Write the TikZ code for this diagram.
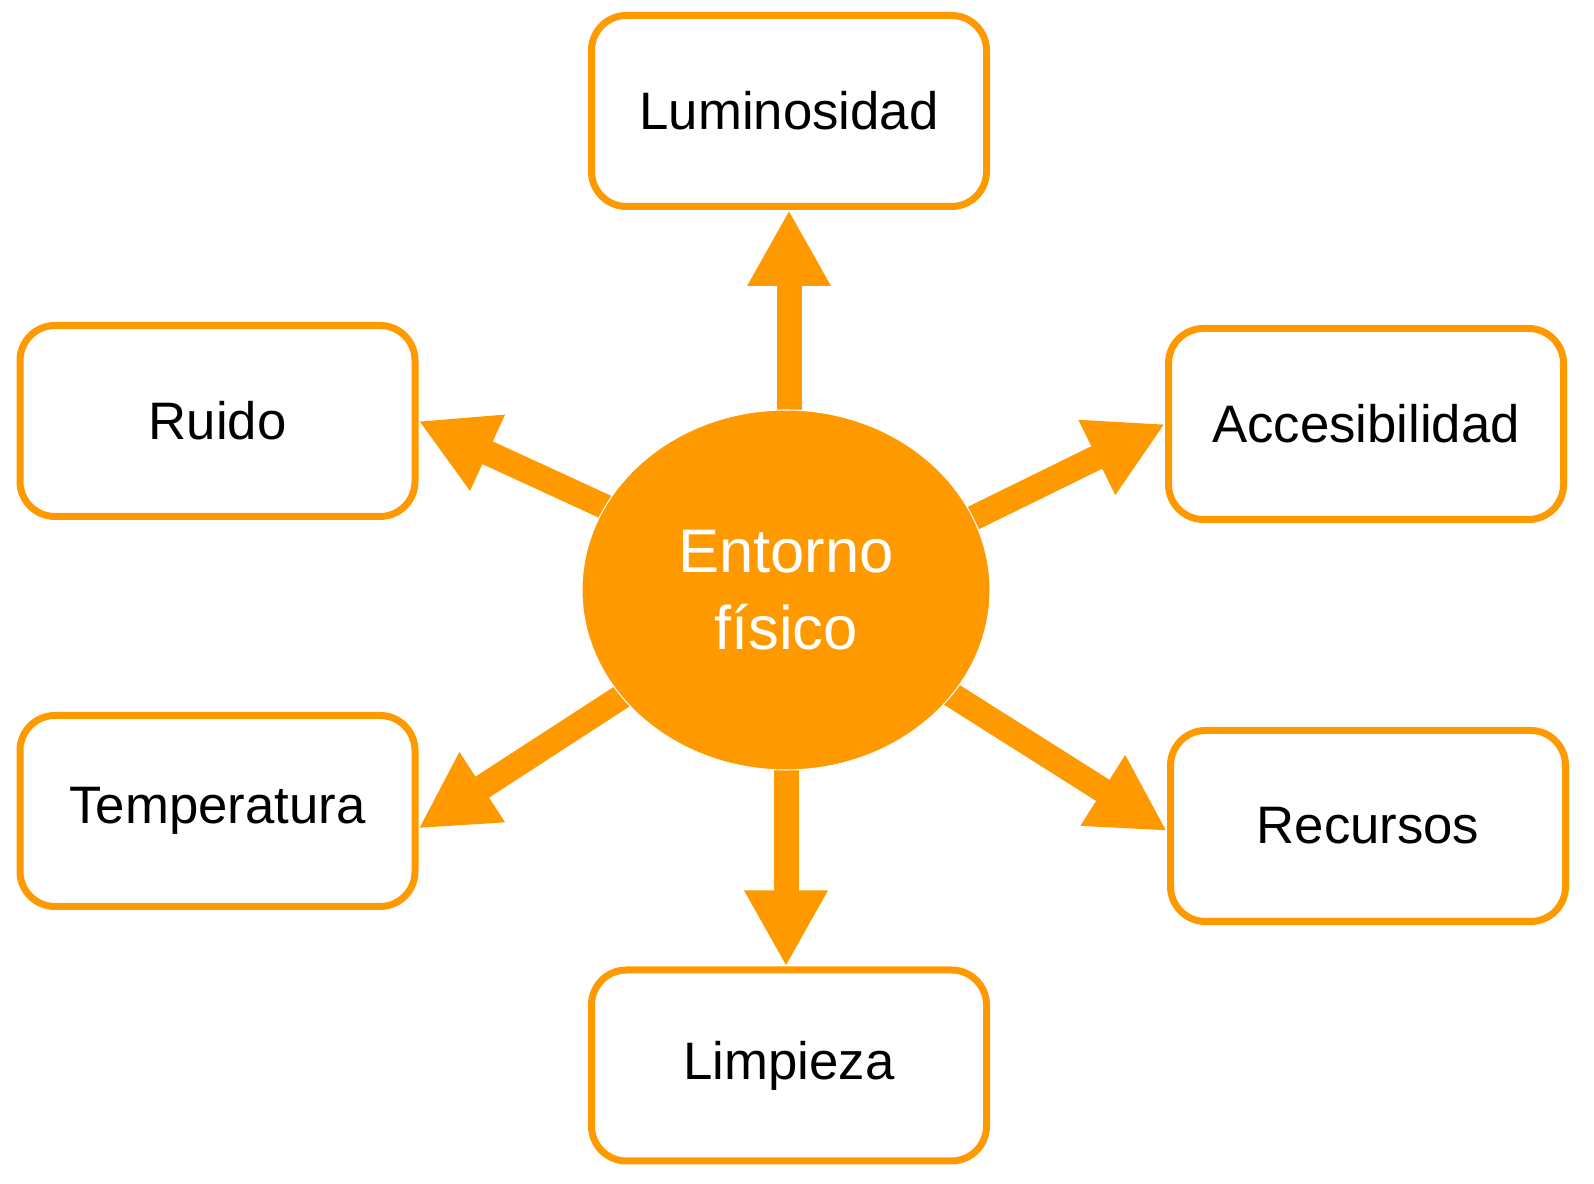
\documentclass[tikz,border=0pt]{standalone}
\usepackage{fontspec}
\setmainfont{Liberation Sans}
\usetikzlibrary{arrows.meta,shapes.geometric}
\definecolor{naranja}{RGB}{255,153,0}
\tikzset{caja/.style={draw=naranja,line width=0.14cm,rounded corners=0.7cm,minimum width=7.9cm,minimum height=3.82cm,font=\fontsize{30}{36}\selectfont},
flecha/.style={draw=naranja,line width=0.5cm,-{Triangle[length=1.52cm,width=1.56cm]}}}
\begin{document}
\begin{tikzpicture}
\useasboundingbox(0,0)rectangle(31.88,23.68);
\coordinate(c)at(15.72,11.88);
\node[caja](lum)at(15.78,21.46){Luminosidad};
\node[caja](rui)at(4.35,15.26){Ruido};
\node[caja](acc)at(27.32,15.2){Accesibilidad};
\node[caja](tem)at(4.35,7.46){Temperatura};
\node[caja](rec)at(27.36,7.16){Recursos};
\node[caja](lim)at(15.78,2.37){Limpieza};
\draw[flecha](lum.south|-c)--(lum.south);
\draw[flecha](c)--(rui.east);
\draw[flecha]([yshift=-0.4cm]c)--(acc.west);
\draw[flecha](c)--([yshift=-0.35cm]tem.east);
\draw[flecha](c)--([yshift=-0.1cm]rec.west);
\draw[flecha](c)--(c|-lim.north);
\node[ellipse,fill=naranja,draw=white,line width=0.6pt,minimum width=8.16cm,minimum height=7.2cm,text=white,align=center,font=\fontsize{35}{44}\selectfont](ent)at(c){Entorno\\físico};
\end{tikzpicture}
\end{document}
